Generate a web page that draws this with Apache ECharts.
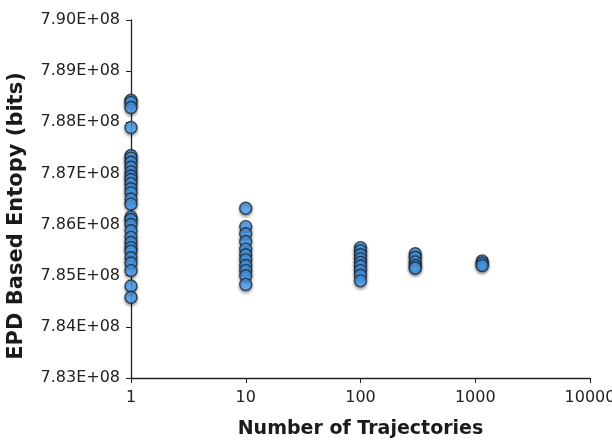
<!DOCTYPE html>
<html>
<head>
<meta charset="utf-8">
<script src="https://cdn.jsdelivr.net/npm/echarts@6/dist/echarts.min.js"></script>
<style>
  html, body { margin: 0; padding: 0; background: #fff; }
  #chart { width: 612px; height: 443px; }
</style>
</head>
<body>
<div id="chart"></div>
<script>
// Number of trajectories used per run
const trajectoryCounts = [1, 10, 100, 300, 1150];

// EPD based entropy (bits) for each repeated run, grouped by trajectory count
const entropyAt1 = [
  7.8843e8, 7.8839e8, 7.8829e8, 7.8790e8, 7.8735e8, 7.8730e8, 7.8722e8,
  7.8712e8, 7.8703e8, 7.8695e8, 7.8688e8, 7.8680e8, 7.8670e8, 7.8662e8,
  7.8650e8, 7.8640e8, 7.8615e8, 7.8610e8, 7.8600e8, 7.8588e8, 7.8575e8,
  7.8565e8, 7.8555e8, 7.8548e8, 7.8535e8, 7.8525e8, 7.8510e8, 7.8480e8,
  7.8458e8
];
const entropyAt10 = [
  7.8632e8, 7.8596e8, 7.8582e8, 7.8567e8, 7.8552e8, 7.8541e8, 7.8531e8,
  7.8520e8, 7.8510e8, 7.8500e8, 7.8483e8
];
const entropyAt100 = [
  7.8555e8, 7.8549e8, 7.8541e8, 7.8533e8, 7.8526e8, 7.8519e8, 7.8510e8,
  7.8501e8, 7.8490e8
];
const entropyAt300 = [7.8543e8, 7.8536e8, 7.8527e8, 7.8520e8, 7.8515e8];
const entropyAt1150 = [7.8529e8, 7.8525e8, 7.8520e8];

const groups = [entropyAt1, entropyAt10, entropyAt100, entropyAt300, entropyAt1150];

// Y-axis range and step
const yMin = 7.83e8;
const yMax = 7.90e8;
const yStep = 1e6;

const points = [];
groups.forEach((vals, i) => {
  vals.forEach(v => points.push([trajectoryCounts[i], v]));
});

const font = 'DejaVu Sans';
const chart = echarts.init(document.getElementById('chart'));
chart.setOption({
  animation: false,
  backgroundColor: '#ffffff',
  grid: {
    left: 131, right: 22, top: 20, bottom: 65,
    containLabel: false,
    outerBoundsMode: 'none'
  },
  xAxis: {
    type: 'log',
    logBase: 10,
    min: 1,
    max: 10000,
    name: 'Number of Trajectories',
    nameLocation: 'middle',
    nameGap: 42,
    nameTextStyle: { fontFamily: font, fontWeight: 'bold', fontSize: 19, color: '#1a1a1a' },
    axisLine: { lineStyle: { color: '#222', width: 1.3 } },
    axisTick: { show: true, inside: false, length: 5, lineStyle: { color: '#222' } },
    minorTick: { show: false },
    splitLine: { show: false },
    axisLabel: {
      fontFamily: font, fontSize: 16, color: '#222', margin: 12,
      formatter: v => String(Math.round(v))
    }
  },
  yAxis: {
    type: 'value',
    min: yMin,
    max: yMax,
    interval: yStep,
    name: 'EPD Based Entopy (bits)',
    nameLocation: 'middle',
    nameGap: 104,
    nameTextStyle: {
      fontFamily: font, fontWeight: 'bold', fontSize: 21, color: '#1a1a1a',
      padding: [0, 34, 0, 0]
    },
    axisLine: { show: true, lineStyle: { color: '#222', width: 1.3 } },
    axisTick: { show: true, length: 5, lineStyle: { color: '#222' } },
    splitLine: { show: false },
    axisLabel: {
      fontFamily: font, fontSize: 16, color: '#222', margin: 11,
      formatter: v => (v / 1e8).toFixed(2) + 'E+08'
    }
  },
  series: [{
    type: 'scatter',
    data: points,
    symbol: 'circle',
    symbolSize: 12,
    itemStyle: {
      color: '#4fa8fc',
      borderColor: '#1b2430',
      borderWidth: 1.4,
      shadowBlur: 3,
      shadowColor: 'rgba(0,0,0,0.45)',
      shadowOffsetY: 2
    }
  }]
});
</script>
</body>
</html>
